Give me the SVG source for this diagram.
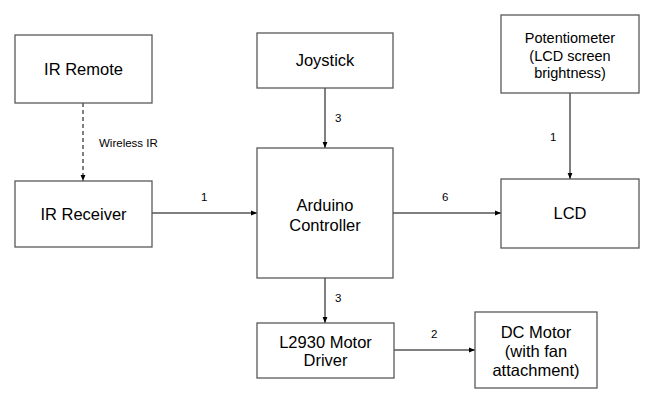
<svg xmlns="http://www.w3.org/2000/svg" width="662" height="404" viewBox="0 0 662 404">
<style>
.box{fill:#fff;stroke:#595959;stroke-width:1.3}
.t{font-family:"Liberation Sans",Arial,sans-serif;font-size:16.5px;fill:#000;text-anchor:middle}
.t2{font-family:"Liberation Sans",Arial,sans-serif;font-size:14.5px;fill:#000;text-anchor:middle}
.l{font-family:"Liberation Sans",Arial,sans-serif;font-size:11.5px;fill:#000}
.c{stroke:#000;stroke-width:1;fill:none;marker-end:url(#ah)}
</style>
<defs>
<marker id="ah" viewBox="0 0 10 10" refX="10" refY="5" markerWidth="6" markerHeight="6" markerUnits="userSpaceOnUse" orient="auto">
<path d="M0,1 L10,5 L0,9 Z" fill="#000"/>
</marker>
</defs>
<rect width="662" height="404" fill="#fff"/>
<g id="connectors">
<path class="c" d="M83,103 V181" stroke-dasharray="4,3"/>
<path class="c" d="M152,213 H257"/>
<path class="c" d="M325,88 V148"/>
<path class="c" d="M393,213 H501"/>
<path class="c" d="M570,93 V179"/>
<path class="c" d="M325,278 V323"/>
<path class="c" d="M394,350 H475"/>
<text class="l" x="99" y="147">Wireless IR</text>
<text class="l" x="201" y="201">1</text>
<text class="l" x="335" y="122">3</text>
<text class="l" x="442" y="201">6</text>
<text class="l" x="550" y="141">1</text>
<text class="l" x="335" y="302">3</text>
<text class="l" x="431" y="338">2</text>
</g>
<g id="ir-remote"><rect class="box" x="15" y="35" width="137" height="68"/><text class="t" x="83.5" y="75">IR Remote</text></g>
<g id="ir-receiver"><rect class="box" x="15" y="181" width="137" height="66"/><text class="t" x="83.5" y="220">IR Receiver</text></g>
<g id="joystick"><rect class="box" x="257" y="33" width="136" height="55"/><text class="t" x="325" y="66">Joystick</text></g>
<g id="arduino"><rect class="box" x="257" y="148" width="136" height="130"/><text class="t" x="325" y="211">Arduino</text><text class="t" x="325" y="231">Controller</text></g>
<g id="potentiometer"><rect class="box" x="501" y="15" width="138" height="78"/><text class="t2" x="570" y="42.5">Potentiometer</text><text class="t2" x="570" y="60.5">(LCD screen</text><text class="t2" x="570" y="78">brightness)</text></g>
<g id="lcd"><rect class="box" x="501" y="179" width="138" height="69"/><text class="t" x="570" y="219">LCD</text></g>
<g id="motor-driver"><rect class="box" x="257" y="323" width="137" height="55"/><text class="t" x="325.5" y="348">L2930 Motor</text><text class="t" x="325.5" y="366">Driver</text></g>
<g id="dc-motor"><rect class="box" x="475" y="312" width="122" height="76"/><text class="t" x="536" y="337.5">DC Motor</text><text class="t" x="536" y="357">(with fan</text><text class="t" x="536" y="376">attachment)</text></g>
</svg>
